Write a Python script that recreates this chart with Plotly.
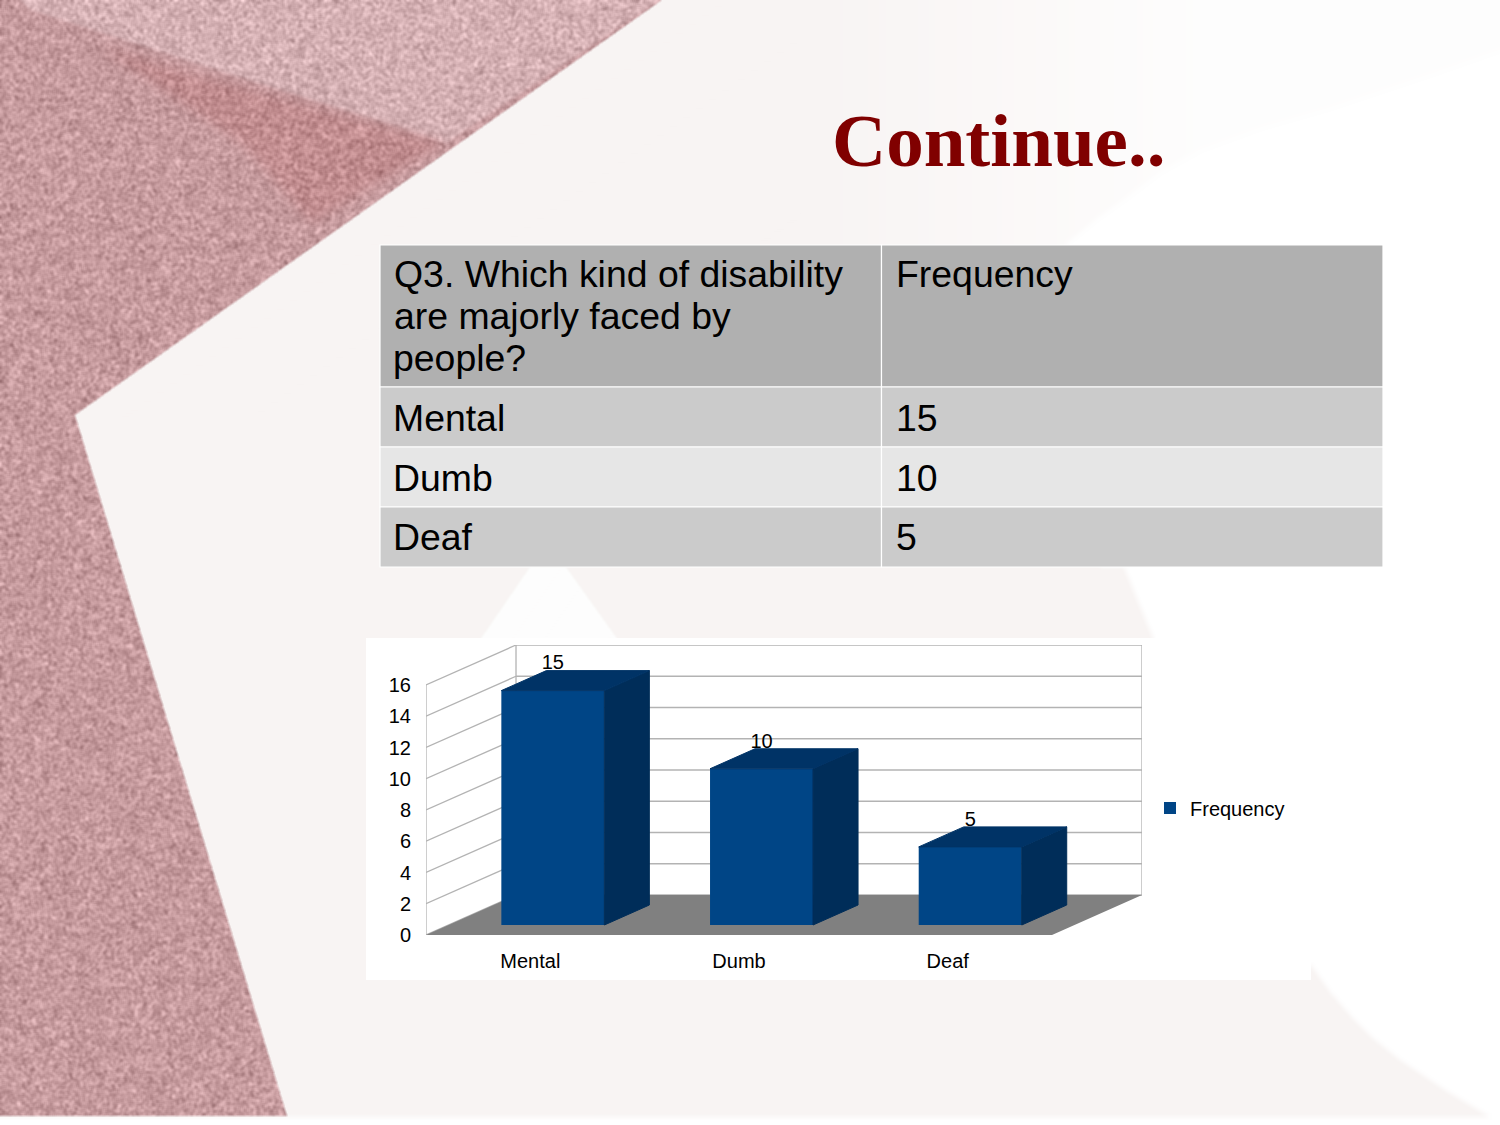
import base64, struct, zlib
import numpy as np
import plotly.graph_objects as go

# ---------- data ----------
categories = ["Mental", "Dumb", "Deaf"]
frequency = [15, 10, 5]
y_ticks = [0, 2, 4, 6, 8, 10, 12, 14, 16]
series_name = "Frequency"
title_text = "Continue.."
table_header_lines = ["Q3. Which kind of disability", "are majorly faced by", "people?"]
table_header_right = "Frequency"

W, H = 1500, 1125
BLUE, SIDE, TOP = "#004586", "#002d59", "#003366"


# ---------- decorative slide background (texture only, no data) ----------
def poly_mask(pts):
    yy, xx = np.mgrid[0:H, 0:W]
    xx = xx + 0.5
    yy = yy + 0.5
    inside = np.zeros((H, W), dtype=bool)
    n = len(pts)
    for i in range(n):
        x0, y0 = pts[i]
        x1, y1 = pts[(i + 1) % n]
        if y0 == y1:
            continue
        cond = ((y0 > yy) != (y1 > yy)) & (xx < (x1 - x0) * (yy - y0) / (y1 - y0) + x0)
        inside ^= cond
    return inside.astype(float)


def blur(a, r):
    k = 2 * r + 1
    for axis in (0, 1):
        c = np.cumsum(np.concatenate([np.take(a, [0] * (r + 1), axis=axis), a,
                                      np.take(a, [-1] * r, axis=axis)], axis=axis), axis=axis)
        a = (np.take(c, np.arange(k, c.shape[axis]), axis=axis)
             - np.take(c, np.arange(0, c.shape[axis] - k), axis=axis)) / k
    return a


def png_uri(rgb):
    raw = b"".join(b"\x00" + rgb[i].tobytes() for i in range(rgb.shape[0]))
    def chunk(t, d):
        return struct.pack(">I", len(d)) + t + d + struct.pack(">I", zlib.crc32(t + d))
    data = (b"\x89PNG\r\n\x1a\n"
            + chunk(b"IHDR", struct.pack(">IIBBBBB", rgb.shape[1], rgb.shape[0], 8, 2, 0, 0, 0))
            + chunk(b"IDAT", zlib.compress(raw, 9)) + chunk(b"IEND", b""))
    return "data:image/png;base64," + base64.b64encode(data).decode()


yy, xx = np.mgrid[0:H, 0:W].astype(float)
img = np.full((H, W, 3), 255.0)

faint = poly_mask([(600, 0), (1500, 0), (1500, 50), (1420, 78), (1330, 108), (1260, 128), (1200, 150),
                   (1160, 172), (1127, 197), (1095, 220), (1067, 243),
                   (1100, 567), (1124, 567), (1153, 638), (1153, 970), (1311, 965), (1330, 992), (1350, 1015),
                   (1375, 1040), (1400, 1060), (1445, 1090), (1490, 1117), (0, 1117), (0, 415)])
fade = np.clip((xx - 800) / 400, 0, 1) * (yy < 320)
faint_col = np.array([248.0, 244.0, 243.0])
for c in range(3):
    img[..., c] = 255 + blur(faint, 3) * (1 - 0.85 * fade) * (faint_col[c] - 255)
notch = blur(poly_mask([(480, 640), (530, 567), (566, 567), (618, 640)]), 1)
img = img * (1 - notch[..., None]) + 253.0 * notch[..., None]
rect = poly_mask([(366, 638), (1311, 638), (1311, 980), (366, 980)])
img = img * (1 - rect[..., None]) + 255.0 * rect[..., None]

grain = np.sin(xx * 12.9898 + yy * 78.233) * 43758.5453
grain = grain - np.floor(grain)
grain = np.sin(grain * 91.7 + xx * 3.11 + yy * 7.77) * 9631.77
grain = grain - np.floor(grain) - 0.5
grain = blur(blur(grain, 1), 1)
grain = grain / grain.std()
pink = np.zeros((H, W, 3))
light = poly_mask([(20, 0), (660, 0), (446, 143), (31, 10)])
patch = blur(poly_mask([(100, 47), (446, 143), (312, 223), (241, 143)]), 8)
base_dark = np.array([198.0, 155.0, 158.0])
base_light = np.array([212.0, 176.0, 179.0])
base_patch = np.array([190.0, 130.0, 132.0])
ls = blur(light, 2)
for c in range(3):
    pink[..., c] = base_dark[c] * (1 - ls) + base_light[c] * ls
    pink[..., c] = pink[..., c] * (1 - patch * 0.55) + base_patch[c] * patch * 0.55
    pink[..., c] += grain * 10
region = blur(poly_mask([(0, 0), (662, 0), (75, 415), (287, 1116), (0, 1116)]), 1)
img = img * (1 - region[..., None]) + pink * region[..., None]
bg_uri = png_uri(np.clip(img, 0, 255).astype(np.uint8))

# ---------- chart geometry in axis units ----------
X_LO, X_HI = -0.5, 2.931
Y_LO, Y_HI = 0.0, 18.56
DEPTH_X, DEPTH_Y = 0.4313, 2.56
BAR_W = 0.4936
OFF_X, OFF_Y = DEPTH_X / 4, DEPTH_Y / 4
BAR_DX, BAR_DY = DEPTH_X / 2, DEPTH_Y / 2
top_tick = y_ticks[-1]
GRID = "#b3b3b3"


def path(points):
    return "M" + "L".join(f"{x:.4f},{y:.4f}" for x, y in points) + "Z"


shapes = []
shapes.append(dict(type="path", xref="x", yref="y", layer="below", fillcolor="white", line=dict(width=0),
                   path=path([(X_LO, 0), (X_LO + DEPTH_X, DEPTH_Y), (X_HI, DEPTH_Y),
                              (X_HI, top_tick + DEPTH_Y), (X_LO + DEPTH_X, top_tick + DEPTH_Y),
                              (X_LO, top_tick)])))
for v in y_ticks:
    shapes.append(dict(type="line", xref="x", yref="y", layer="below", line=dict(color=GRID, width=1.3),
                       x0=X_LO, y0=v, x1=X_LO + DEPTH_X, y1=v + DEPTH_Y))
    shapes.append(dict(type="line", xref="x", yref="y", layer="below", line=dict(color=GRID, width=1.3),
                       x0=X_LO + DEPTH_X, y0=v + DEPTH_Y, x1=X_HI, y1=v + DEPTH_Y))
for x0, y0, x1, y1 in [(X_LO, 0, X_LO, top_tick),
                       (X_LO + DEPTH_X, DEPTH_Y, X_LO + DEPTH_X, top_tick + DEPTH_Y),
                       (X_HI, DEPTH_Y, X_HI, top_tick + DEPTH_Y)]:
    shapes.append(dict(type="line", xref="x", yref="y", layer="below", line=dict(color=GRID, width=1.3),
                       x0=x0, y0=y0, x1=x1, y1=y1))
shapes.append(dict(type="path", xref="x", yref="y", layer="below", fillcolor="#808080", line=dict(width=0),
                   path=path([(X_LO, 0), (X_HI - DEPTH_X, 0), (X_HI, DEPTH_Y), (X_LO + DEPTH_X, DEPTH_Y)])))

fig = go.Figure()
centers = list(range(len(categories)))
fig.add_trace(go.Bar(x=[c + OFF_X for c in centers], y=frequency, base=OFF_Y, width=BAR_W,
                     name=series_name, marker=dict(color=BLUE, line=dict(width=0)), showlegend=True,
                     hoverinfo="skip"))
for c, v in zip(centers, frequency):
    l = c + OFF_X - BAR_W / 2
    r = c + OFF_X + BAR_W / 2
    b = OFF_Y
    t = OFF_Y + v
    fig.add_trace(go.Scatter(x=[r, r + BAR_DX, r + BAR_DX, r, r], y=[b, b + BAR_DY, t + BAR_DY, t, b],
                             mode="lines", fill="toself", fillcolor=SIDE, line=dict(color=SIDE, width=1),
                             showlegend=False, hoverinfo="skip"))
    fig.add_trace(go.Scatter(x=[l, l + BAR_DX, r + BAR_DX, r, l], y=[t, t + BAR_DY, t + BAR_DY, t, t],
                             mode="lines", fill="toself", fillcolor=TOP, line=dict(color=TOP, width=1),
                             showlegend=False, hoverinfo="skip"))
fig.add_trace(go.Scatter(x=[c + OFF_X for c in centers], y=[v + OFF_Y + 1.68 for v in frequency],
                         text=[str(v) for v in frequency], mode="text", textposition="middle center",
                         textfont=dict(family="Liberation Sans", size=20, color="black"),
                         showlegend=False, hoverinfo="skip", cliponaxis=False))

# ---------- table and title ----------
COLS = [380, 881.5, 1383]
ROWS = [245, 387, 447, 507, 567]
ROW_COLORS = ["#b0b0b0", "#cbcbcb", "#e6e6e6", "#cbcbcb"]
for i, col in enumerate(ROW_COLORS):
    for j in range(2):
        shapes.append(dict(type="rect", xref="paper", yref="paper", layer="below", fillcolor=col,
                           line=dict(color="white", width=1.2),
                           x0=COLS[j] / W, x1=COLS[j + 1] / W, y0=1 - ROWS[i] / H, y1=1 - ROWS[i + 1] / H))


def ann(text, x, y, size=37.4, anchor="left", family="Liberation Sans", color="black", bold=False):
    return dict(text=f"<b>{text}</b>" if bold else text, x=x / W, y=1 - y / H, xref="paper", yref="paper",
                xanchor=anchor, yanchor="middle", showarrow=False, borderpad=0, borderwidth=0,
                font=dict(family=family, size=size, color=color))


annotations = [ann(title_text, 998.5, 140.5, 75, "center", "Liberation Serif", "#800000", True)]
for k, line in enumerate(table_header_lines):
    annotations.append(ann(line, 393.5, 274 + 42 * k))
annotations.append(ann(table_header_right, 895.5, 274))
for k, (cat, v) in enumerate(zip(categories, frequency)):
    y = [418, 478, 537][k]
    annotations.append(ann(cat, 393.5, y))
    annotations.append(ann(str(v), 895.5, y))

fig.update_layout(
    width=W, height=H, margin=dict(l=0, r=0, t=0, b=0, pad=0, autoexpand=False),
    paper_bgcolor="white", plot_bgcolor="rgba(0,0,0,0)",
    shapes=shapes, annotations=annotations,
    images=[dict(source=bg_uri, xref="paper", yref="paper", x=0, y=1, sizex=1, sizey=1,
                 xanchor="left", yanchor="top", sizing="stretch", layer="below")],
    xaxis=dict(domain=[426 / W, 1142 / W], range=[X_LO, X_HI], tickvals=centers, ticktext=categories,
               showgrid=False, zeroline=False, showline=False, ticks="", ticklabelstandoff=12, automargin=False,
               tickfont=dict(family="Liberation Sans", size=20, color="black")),
    yaxis=dict(domain=[1 - 935 / H, 1 - 645 / H], range=[Y_LO, Y_HI], tickvals=y_ticks, ticktext=[str(v) for v in y_ticks],
               showgrid=False, zeroline=False, showline=False, ticks="", ticklabelstandoff=14, automargin=False,
               tickfont=dict(family="Liberation Sans", size=20, color="black")),
    showlegend=True,
    legend=dict(x=1150 / W, y=1 - 808 / H, xanchor="left", yanchor="middle", bgcolor="rgba(0,0,0,0)",
                font=dict(family="Liberation Sans", size=20, color="black"), borderwidth=0),
)

fig.write_html("out.html", config=dict(displayModeBar=False),
               post_script="document.body.style.margin='0';document.body.style.overflow='hidden';")
